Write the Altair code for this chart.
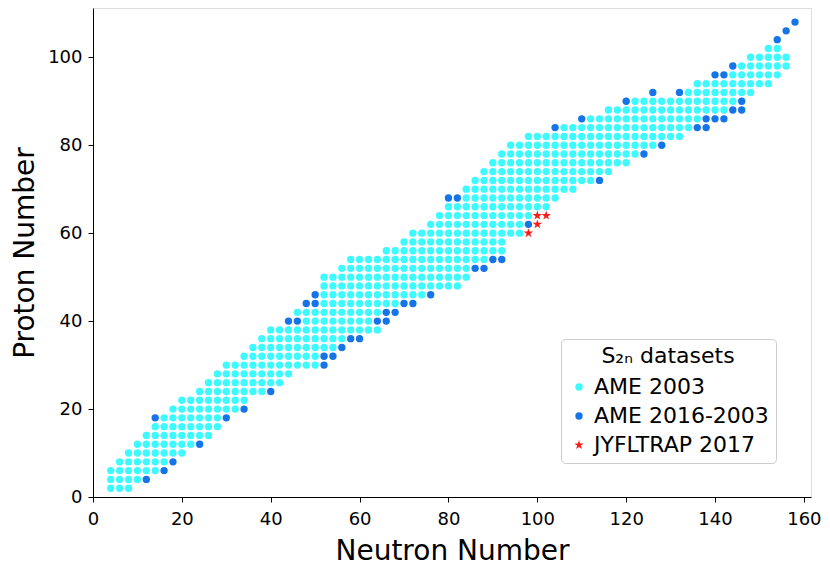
import altair as alt
import pandas as pd

# even proton numbers that hold AME 2003 points, with first/last even neutron number of each row
Z_ROWS = list(range(2, 104, 2))
CYAN_FIRST = [4, 4, 4, 6, 8, 10, 12, 14, 16, 18, 20, 24, 26, 28, 30, 34, 36, 38, 40, 48,
              46, 52, 52, 52, 52, 56, 58, 66, 70, 72, 76, 78, 80, 84, 84, 86, 88, 90, 92, 94,
              98, 106, 112, 116, 122, 134, 136, 144, 146, 148, 152]
CYAN_LAST = [8, 10, 14, 16, 20, 22, 26, 28, 28, 32, 34, 38, 42, 44, 50, 50, 54, 56, 64, 62,
             64, 68, 74, 82, 84, 84, 88, 92, 92, 96, 96, 98, 102, 104, 108, 112, 116, 120, 122, 126,
             132, 134, 136, 142, 144, 148, 152, 154, 156, 156, 154]

# AME 2016-2003 points
BLUE_N = [12, 16, 18, 24, 14, 30, 34, 40, 52, 52, 54, 56, 58, 60, 44, 46, 64, 66, 66, 68,
          48, 50, 70, 72, 50, 76, 86, 88, 90, 92, 98, 80, 82, 114, 124, 128, 104, 136, 138, 110,
          138, 140, 142, 144, 146, 120, 146, 126, 132, 140, 142, 144, 154, 156, 158]
BLUE_Z = [4, 6, 8, 12, 18, 18, 20, 24, 30, 32, 32, 34, 36, 36, 40, 40, 40, 40, 42, 42,
          44, 44, 44, 44, 46, 46, 52, 52, 54, 54, 62, 68, 68, 72, 78, 80, 84, 84, 84, 86,
          86, 86, 86, 88, 88, 90, 90, 92, 92, 96, 96, 98, 104, 106, 108]

# JYFLTRAP 2017 points
RED_N = [98, 100, 100, 102]
RED_Z = [60, 62, 64, 64]

SETS = ["AME 2003", "AME 2016-2003", "JYFLTRAP 2017"]
X_TICKS = [0, 20, 40, 60, 80, 100, 120, 140, 160]
Y_TICKS = [0, 20, 40, 60, 80, 100]

rows = []
for z, n0, n1 in zip(Z_ROWS, CYAN_FIRST, CYAN_LAST):
    for n in range(n0, n1 + 1, 2):
        rows.append({"N": n, "Z": z, "set": SETS[0]})
for n, z in zip(BLUE_N, BLUE_Z):
    rows.append({"N": n, "Z": z, "set": SETS[1]})
for n, z in zip(RED_N, RED_Z):
    rows.append({"N": n, "Z": z, "set": SETS[2]})
df = pd.DataFrame(rows)

STAR = ("M0,-1.35L0.304,-0.417L1.284,-0.417L0.49,0.159L0.794,1.092L0,0.516"
        "L-0.794,1.092L-0.49,0.159L-1.284,-0.417L-0.304,-0.417Z")
FONT = "DejaVu Sans"

legend = alt.Legend(
    title="S₂ₙ datasets", orient="none", legendX=468, legendY=331,
    titleFontSize=22, labelFontSize=22, titleFont=FONT, labelFont=FONT,
    titleFontWeight="normal", titleColor="black", labelColor="black",
    titleAnchor="middle", titlePadding=8, rowPadding=7, labelOffset=4,
    padding=7, strokeColor="#cccccc", fillColor="white", cornerRadius=4,
    symbolSize=36, symbolStrokeWidth=0, symbolOpacity=1, labelLimit=400,
)

axis_common = dict(grid=False, tickSize=5, labelFontSize=18, titleFontSize=28,
                   labelFont=FONT, titleFont=FONT, titleFontWeight="normal",
                   domainColor="black", tickColor="black", labelColor="black",
                   titleColor="black", labelFlush=False, labelOverlap=False)

chart = alt.Chart(df).mark_point(filled=True, opacity=1, strokeWidth=0).encode(
    x=alt.X("N:Q", scale=alt.Scale(domain=[0, 161.6], nice=False, zero=False),
            axis=alt.Axis(values=X_TICKS, title="Neutron Number", labelPadding=8,
                          titlePadding=9, **axis_common)),
    y=alt.Y("Z:Q", scale=alt.Scale(domain=[0, 111.2], nice=False, zero=False),
            axis=alt.Axis(values=Y_TICKS, title="Proton Number", labelPadding=6,
                          titlePadding=8, **axis_common)),
    color=alt.Color("set:N", scale=alt.Scale(domain=SETS, range=["#3cfaff", "#1574e8", "#ff1a1a"]),
                    legend=legend),
    shape=alt.Shape("set:N", scale=alt.Scale(domain=SETS, range=["circle", "circle", STAR]),
                    legend=legend),
    size=alt.Size("set:N", scale=alt.Scale(domain=SETS, range=[54, 54, 100]), legend=None),
).properties(
    width=718, height=489,
    autosize=alt.AutoSizeParams(type="none"),
    padding={"left": 85, "top": 0, "right": 11, "bottom": 68},
).configure_view(stroke="black", strokeWidth=1).configure(background="white")

chart.save("out.html", embed_options={"renderer": "svg", "actions": False})
